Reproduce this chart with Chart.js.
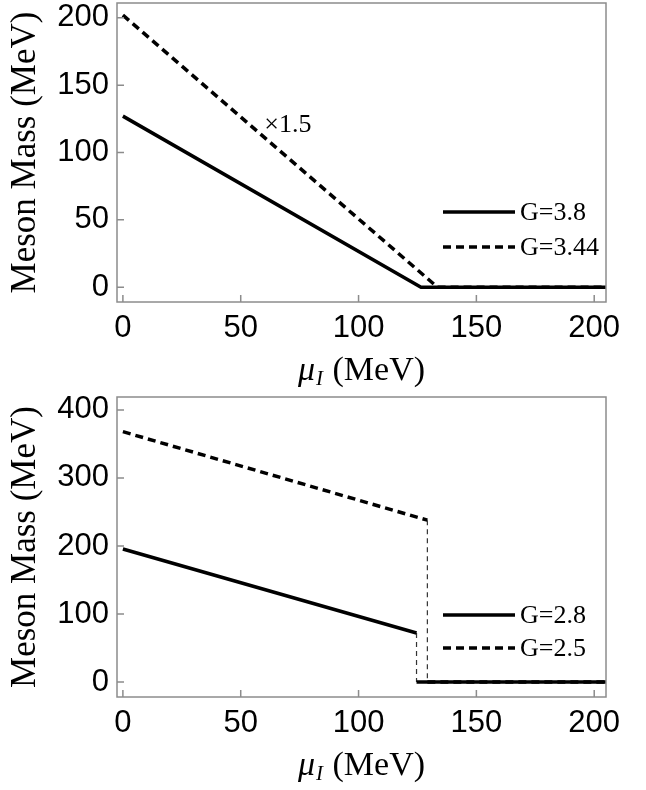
<!DOCTYPE html>
<html lang="en">
<head>
<meta charset="UTF-8">
<title>Meson Mass vs mu_I</title>
<script src="https://cdn.jsdelivr.net/npm/chart.js@4.4.1/dist/chart.umd.min.js"></script>
<style>
  body { margin: 0; background: #fff; }
  canvas { display: block; }
</style>
</head>
<body>
<canvas id="chartTop" width="646" height="395"></canvas>
<canvas id="chartBottom" width="646" height="395"></canvas>
<script>
// ---- top panel ----
const muG38 = [0, 126.5, 205];
const massG38 = [127, 0, 0];
const muG344 = [0, 133.5, 205];
const massG344 = [202, 0, 0];
const labelsTop = ['G=3.8', 'G=3.44'];
const noteText = '\u00d71.5';
const notePos = [60, 120];
const yTicksTop = [0, 50, 100, 150, 200];

// ---- bottom panel ----
const muG28 = [0, 124.6, 124.6, 124.6, 205];
const massG28 = [195.5, 72, null, 0, 0];
const muG25 = [0, 129.2, 129.2, 129.2, 205];
const massG25 = [368, 238, null, 0, 0];
const jumpMu = [124.6, 129.2];
const jumpFrom = [72, 238];
const labelsBottom = ['G=2.8', 'G=2.5'];
const yTicksBottom = [0, 100, 200, 300, 400];

const xTicks = [0, 50, 100, 150, 200];

const pairs = (xs, ys) => xs.map((v, i) => ({x: v, y: ys[i]}));

// frame, inward ticks, legend, note and x title
const framePlugin = {
  id: 'frame',
  afterDraw(chart, args, opts) {
    const ctx = chart.ctx;
    const a = chart.chartArea;
    const xs = chart.scales.x, ys = chart.scales.y;
    ctx.save();
    ctx.strokeStyle = '#8c8c8c';
    ctx.lineWidth = 1.5;
    ctx.strokeRect(a.left, a.top, a.right - a.left, a.bottom - a.top);
    ctx.beginPath();
    xs.ticks.forEach(t => {
      const px = xs.getPixelForValue(t.value);
      ctx.moveTo(px, a.bottom); ctx.lineTo(px, a.bottom - 7);
    });
    ys.ticks.forEach(t => {
      const py = ys.getPixelForValue(t.value);
      ctx.moveTo(a.left, py); ctx.lineTo(a.left + 7, py);
    });
    ctx.stroke();

    // legend
    ctx.fillStyle = '#000';
    ctx.font = '26px "Liberation Serif", serif';
    ctx.textBaseline = 'middle';
    opts.legendRows.forEach((yy, i) => {
      const ds = chart.data.datasets[i];
      ctx.strokeStyle = '#000';
      ctx.lineWidth = 3.5;
      ctx.setLineDash(ds.borderDash || []);
      ctx.beginPath();
      ctx.moveTo(opts.legendX[0], yy); ctx.lineTo(opts.legendX[1], yy);
      ctx.stroke();
      ctx.setLineDash([]);
      ctx.fillText(ds.label, opts.legendX[1] + 5, yy + 1);
    });

    // note
    if (opts.note) {
      ctx.font = '26px "Liberation Serif", serif';
      ctx.textAlign = 'left';
      ctx.fillText(opts.note, xs.getPixelForValue(opts.notePos[0]), ys.getPixelForValue(opts.notePos[1]));
    }

    // x title: mu_I (MeV)
    const big = '34px "Liberation Serif", serif';
    const bigI = 'italic 34px "Liberation Serif", serif';
    const sub = 'italic 21px "Liberation Serif", serif';
    ctx.textBaseline = 'alphabetic';
    ctx.font = bigI; const w1 = ctx.measureText('\u03bc').width;
    ctx.font = sub; const w2 = ctx.measureText('I').width;
    ctx.font = big; const w3 = ctx.measureText(' (MeV)').width;
    let x0 = (a.left + a.right) / 2 - (w1 + w2 + 2 + w3) / 2;
    const base = a.bottom + 78;
    ctx.font = bigI; ctx.fillText('\u03bc', x0, base); x0 += w1 + 1;
    ctx.font = sub; ctx.fillText('I', x0, base + 5); x0 += w2 + 1;
    ctx.font = big; ctx.fillText(' (MeV)', x0, base);
    ctx.restore();
  }
};

function makeChart(id, datasets, yMin, yMax, yTicks, topPad, pluginOpts) {
  return new Chart(document.getElementById(id), {
    type: 'line',
    data: {datasets: datasets},
    options: {
      responsive: false,
      animation: false,
      layout: {padding: {left: 0, right: 40, top: topPad, bottom: 0}},
      elements: {point: {radius: 0}, line: {tension: 0}},
      plugins: {legend: {display: false}, tooltip: {enabled: false}, frame: pluginOpts},
      scales: {
        x: {
          type: 'linear', min: -2.5, max: 205,
          afterBuildTicks: s => { s.ticks = xTicks.map(v => ({value: v})); },
          afterFit: s => { s.height = 93; s.paddingLeft = 0; s.paddingRight = 0; },
          grid: {display: false, drawTicks: false},
          border: {display: false},
          ticks: {color: '#000', padding: 8, maxRotation: 0,
                  font: {family: '"Liberation Sans", Arial, sans-serif', size: 31}}
        },
        y: {
          type: 'linear', min: yMin, max: yMax,
          afterBuildTicks: s => { s.ticks = yTicks.map(v => ({value: v})); },
          afterFit: s => { s.width = 117; s.paddingTop = 0; s.paddingBottom = 0; },
          grid: {display: false, drawTicks: false},
          border: {display: false},
          ticks: {color: '#000', padding: 8,
                  font: {family: '"Liberation Sans", Arial, sans-serif', size: 31}},
          title: {display: true, text: 'Meson Mass (MeV)', color: '#000',
                  padding: {top: 5, bottom: 0},
                  font: {family: '"Liberation Serif", serif', size: 35, weight: 'normal'}}
        }
      }
    },
    plugins: [framePlugin]
  });
}

makeChart('chartTop', [
  {label: labelsTop[0], data: pairs(muG38, massG38), borderColor: '#000', borderWidth: 3.5, borderDash: []},
  {label: labelsTop[1], data: pairs(muG344, massG344), borderColor: '#000', borderWidth: 3.5, borderDash: [8, 5]}
], -11, 211, yTicksTop, 3, {legendX: [443, 515], legendRows: [212, 247], note: noteText, notePos: notePos});

makeChart('chartBottom', [
  {label: labelsBottom[0], data: pairs(muG28, massG28), borderColor: '#000', borderWidth: 3.5, borderDash: [], spanGaps: false},
  {label: labelsBottom[1], data: pairs(muG25, massG25), borderColor: '#000', borderWidth: 3.5, borderDash: [8, 5], spanGaps: false},
  {label: '', data: [{x: jumpMu[0], y: jumpFrom[0]}, {x: jumpMu[0], y: 0}], borderColor: '#333', borderWidth: 1.2, borderDash: [5, 4]},
  {label: '', data: [{x: jumpMu[1], y: jumpFrom[1]}, {x: jumpMu[1], y: 0}], borderColor: '#333', borderWidth: 1.2, borderDash: [5, 4]}
], -22, 419, yTicksBottom, 2, {legendX: [443, 515], legendRows: [220, 253]});
</script>
</body>
</html>
